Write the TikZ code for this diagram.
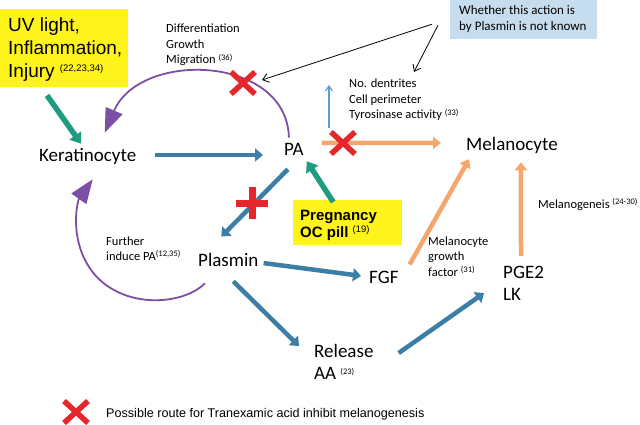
\documentclass[tikz,border=0pt]{standalone}
\usepackage{fontspec}
\setmainfont{Carlito}
\newfontfamily\arialfont{Liberation Sans}
\usetikzlibrary{arrows.meta,calc}
\definecolor{arrblue}{HTML}{3B7EA6}
\definecolor{arrgreen}{HTML}{1E9C80}
\definecolor{arrorange}{HTML}{F4A66C}
\definecolor{arcpurple}{HTML}{7D4EA6}
\definecolor{crossred}{HTML}{E5262C}
\definecolor{boxyellow}{HTML}{FFF31C}
\definecolor{boxblue}{HTML}{C6DDF0}
\definecolor{upblue}{HTML}{5B9BD5}
\newcommand{\refsup}[1]{\raisebox{0.6ex}{\fontsize{8.5}{8.5}\selectfont #1}}
\newcommand{\arialsup}[1]{\raisebox{0.6ex}{\arialfont\fontsize{9.5}{9.5}\selectfont #1}}
\newcommand{\txtlines}[1]{\begin{tabular}[t]{@{}l@{}}#1\end{tabular}}
\tikzset{
  lbl/.style={font=\fontsize{19}{22.5}\selectfont, inner sep=1pt, anchor=base west},
  small/.style={font=\fontsize{12.5}{15.5}\selectfont, inner sep=0pt, anchor=base west},
  boxtext/.style={inner sep=0pt, anchor=base west},
  bluearr/.style={draw=arrblue, line width=4.5pt, -{Triangle[length=8pt,width=13pt]}},
  greenarr/.style={draw=arrgreen, line width=5.5pt, -{Triangle[length=10pt,width=14pt]}},
  orangearr/.style={draw=arrorange, line width=4.5pt, -{Triangle[length=8pt,width=12pt]}},
  purplearc/.style={draw=arcpurple, line width=1.8pt, -{Triangle[length=24pt,width=18pt]}},
  thinarr/.style={draw=black, line width=0.8pt, -{Straight Barb[length=6pt,width=9pt]}},
  upthin/.style={draw=upblue, line width=1.2pt, -{Straight Barb[length=5pt,width=7pt]}},
  redx/.pic={\draw[crossred, line width=5.5pt] (-12,-11) -- (12,11) (-12,11) -- (12,-11);},
  redplus/.pic={\draw[crossred, line width=7pt] (0,-16) -- (0,16) (-16,0) -- (16,0);},
}
\begin{document}
\begin{tikzpicture}[x=1pt,y=-1pt]
\useasboundingbox (0,0) rectangle (640,425);

% boxes
\node[fill=boxyellow, anchor=north west, minimum width=128pt, minimum height=78pt, inner sep=0pt] (uvbox) at (0,9) {};
\node[boxtext, font=\arialfont\fontsize{19}{23}\selectfont] (uvtext) at (8,32)
      {\txtlines{UV light,\\Inflammation,\\Injury \arialsup{(22,23,34)}}};
\node[fill=boxblue, anchor=north west, minimum width=147pt, minimum height=39pt, inner sep=0pt] (note) at (450,0) {};
\node[boxtext, font=\fontsize{13}{16}\selectfont] (notetext) at (459,15)
      {\txtlines{Whether this action is\\by Plasmin is not known}};

% main labels
\node[lbl] (kera) at (38,162) {Keratinocyte};
\node[lbl] (pa) at (283,156) {PA};
\node[lbl] (plasmin) at (197,266) {Plasmin};
\node[lbl] (fgf) at (368,283) {FGF};
\node[lbl] (release) at (313,357) {\txtlines{Release\\AA \refsup{(23)}}};
\node[lbl] (pge) at (502,278) {\txtlines{PGE2\\LK}};
\node[lbl] (mel) at (465,150) {Melanocyte};

% small texts
\node[small] (diff) at (166,33) {\txtlines{Differentiation\\Growth\\Migration \refsup{(36)}}};
\node[small] (dend) at (349,88) {\txtlines{No. dentrites\\Cell perimeter\\Tyrosinase activity \refsup{(33)}}};
\node[small] (further) at (106,245) {\txtlines{Further\\induce PA\refsup{(12,35)}}};
\node[small] (mgf) at (428,245) {\txtlines{Melanocyte\\growth\\factor \refsup{(31)}}};
\node[small] (melanog) at (538,208) {Melanogeneis \refsup{(24-30)}};

% arcs
\draw[purplearc] ($(pa.north)+(-5,-5)$) .. controls (287,55) and (140,50) .. ($(kera.north)+(17,-15)$);
\draw[purplearc] ($(plasmin.south west)+(8,16)$) .. controls (180,308) and (110,310) .. (85,260)
      .. controls (70,230) and (78,200) .. ($(kera.south)+(5,13)$);

% arrows
\draw[greenarr] ($(uvbox.south west)+(47,8)$) -- ($(kera.north west)+(43,-4)$);
\draw[bluearr] ($(kera.east)+(18,-2)$) -- ($(kera.east -| pa.west)+(-20,-2)$);
\draw[orangearr] ($(pa.east)+(17,-7)$) -- ($(mel.west)+(-24,-2)$);
\coordinate (upbase) at (329,128);
\coordinate (uptip) at (329,85);
\draw[upthin] (upbase) -- (uptip);

\draw[bluearr] ($(pa.south)+(-6,12)$) -- ($(plasmin.north)+(-7,-15)$);
\node[fill=boxyellow, anchor=north west, minimum width=109pt, minimum height=45pt, inner sep=0pt] (preg) at (293,200) {};
\node[boxtext, font=\arialfont\bfseries\fontsize{15}{17}\selectfont] (pregtext) at (300,220)
      {\txtlines{Pregnancy\\OC pill \mdseries\arialsup{(19)}}};
\draw[greenarr] ($(preg.north)+(-14.5,2)$) -- ($(pa.south east)+(2,4)$);

\draw[bluearr] ($(plasmin.east)+(4,3.6)$) -- ($(fgf.west)+(-7,-1)$);
\draw[bluearr] ($(plasmin.south)+(5,14)$) -- ($(release.north west)+(-14,6)$);
\draw[bluearr] ($(release.north east)+(24,13)$) -- ($(pge.north west)+(-18,32)$);
\draw[orangearr] ($(fgf.north east)+(10,-5)$) -- ($(mel.south west)+(4,5)$);
\draw[orangearr] ($(pge.north west)+(19,-5)$) -- ($(mel.south)+(9,8)$);

% red marks
\pic at (243,83) {redx};
\coordinate (xmark) at (243,83);
\pic at (343,143) {redx};
\pic at (252,203) {redplus};

% note pointers
\draw[thinarr] ($(note.west)+(-18,4.5)$) -- ($(xmark)+(19,-3)$);
\draw[thinarr] ($(note.west)+(-12,5.5)$) -- ($(dend.north west)+(65,-5)$);

% legend
\pic at (76,412) {redx};
\node[anchor=base west, inner sep=0pt, font=\arialfont\fontsize{12.6}{15}\selectfont] (legend) at (106,417)
      {Possible route for Tranexamic acid inhibit melanogenesis};
\end{tikzpicture}
\end{document}
